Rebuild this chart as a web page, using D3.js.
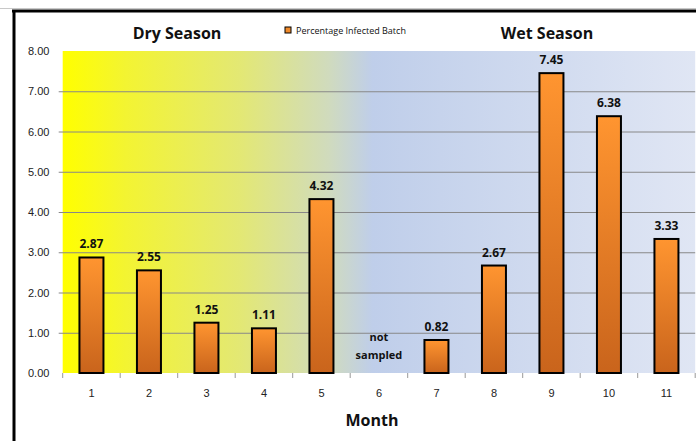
<!DOCTYPE html>
<html>
<head>
<meta charset="utf-8">
<script src="https://cdn.jsdelivr.net/npm/d3@7"></script>
<style>
  body { margin: 0; background: #fff; }
  svg { display: block; font-family: "Open Sans", "DejaVu Sans", sans-serif; }
</style>
</head>
<body>
<svg id="chart" width="696" height="441"></svg>
<script>
// data
var months = ["1", "2", "3", "4", "5", "6", "7", "8", "9", "10", "11"];
var infected = [2.87, 2.55, 1.25, 1.11, 4.32, null, 0.82, 2.67, 7.45, 6.38, 3.33];
var yTicks = [0, 1, 2, 3, 4, 5, 6, 7, 8];
var seasons = ["Dry Season", "Wet Season"];
var seriesName = "Percentage Infected Batch";

var svg = d3.select("#chart");
var plotL = 62.7, plotR = 695.2, plotT = 51, plotB = 373;

var x = d3.scaleBand().domain(months).range([plotL, plotR]).padding(0);
var y = d3.scaleLinear().domain([0, 8]).range([plotB, plotT]);

var defs = svg.append("defs");
var bg = defs.append("linearGradient").attr("id", "bg").attr("x1", 0).attr("x2", 1).attr("y1", 0).attr("y2", 0);
bg.append("stop").attr("offset", "0%").attr("stop-color", "#ffff00");
bg.append("stop").attr("offset", "10%").attr("stop-color", "#f3f432");
bg.append("stop").attr("offset", "28%").attr("stop-color", "#e3e874");
bg.append("stop").attr("offset", "42%").attr("stop-color", "#d0dbbd");
bg.append("stop").attr("offset", "49%").attr("stop-color", "#bfceea");
bg.append("stop").attr("offset", "100%").attr("stop-color", "#e0e6f4");

var barGrad = defs.append("linearGradient").attr("id", "bar").attr("x1", 0).attr("x2", 0).attr("y1", 0).attr("y2", 1);
barGrad.append("stop").attr("offset", "0%").attr("stop-color", "#ff9530");
barGrad.append("stop").attr("offset", "100%").attr("stop-color", "#c9641c");

// frame lines
svg.append("line").attr("x1", 0).attr("x2", 696).attr("y1", 8.5).attr("y2", 8.5).attr("stroke", "#c8c8c8").attr("stroke-width", 1);
svg.append("line").attr("x1", 12).attr("x2", 696).attr("y1", 11).attr("y2", 11).attr("stroke", "#000").attr("stroke-width", 3);
svg.append("line").attr("x1", 14).attr("x2", 14).attr("y1", 10).attr("y2", 441).attr("stroke", "#000").attr("stroke-width", 3);

// plot background
svg.append("rect").attr("x", plotL).attr("y", plotT).attr("width", plotR - plotL).attr("height", plotB - plotT).attr("fill", "url(#bg)");

// gridlines + y axis
var yAxis = d3.axisLeft(y).tickValues(yTicks).tickFormat(d3.format(".2f")).tickSize(-(plotR - plotL + 4)).tickPadding(8);
var gy = svg.append("g").attr("transform", "translate(" + (plotL - 4) + ",0)").call(yAxis);
gy.select(".domain").remove();
gy.selectAll(".tick line").attr("stroke", "#888").attr("stroke-width", 1).filter(function(d) { return d === 0 || d === 8; }).remove();
gy.selectAll(".tick text").attr("font-size", 11).attr("fill", "#222").attr("x", -20).attr("text-anchor", "middle")
  .attr("font-family", "'Liberation Sans', 'DejaVu Sans', sans-serif");

// x axis
var xAxis = d3.axisBottom(x).tickSize(0).tickPadding(16);
var gx = svg.append("g").attr("transform", "translate(0," + plotB + ")").call(xAxis);
gx.select(".domain").remove();
gx.selectAll(".tick text").attr("font-size", 11).attr("fill", "#222");
// ticks between categories
svg.append("g").selectAll("line").data(months.concat(["end"]))
  .join("line")
  .attr("x1", function(d, i) { return plotL + i * x.step(); })
  .attr("x2", function(d, i) { return plotL + i * x.step(); })
  .attr("y1", plotB).attr("y2", plotB + 5)
  .attr("stroke", "#999");

// bars
var bw = 24;
var bars = months.map(function(m, i) { return {m: m, v: infected[i]}; });
svg.append("g").selectAll("rect").data(bars.filter(function(d) { return d.v !== null; }))
  .join("rect")
  .attr("x", function(d) { return x(d.m) + x.bandwidth() / 2 - bw / 2; })
  .attr("y", function(d) { return y(d.v); })
  .attr("width", bw)
  .attr("height", function(d) { return y(0) - y(d.v); })
  .attr("fill", "url(#bar)")
  .attr("stroke", "#000").attr("stroke-width", 2);

svg.append("g").selectAll("text").data(bars.filter(function(d) { return d.v !== null; }))
  .join("text")
  .attr("x", function(d) { return x(d.m) + x.bandwidth() / 2; })
  .attr("y", function(d) { return y(d.v) - 9; })
  .attr("text-anchor", "middle").attr("font-size", 12).attr("font-weight", "bold").attr("fill", "#111")
  .text(function(d) { return d.v.toFixed(2); });

// not sampled label
var missing = bars.filter(function(d) { return d.v === null; });
var ns = svg.append("g").selectAll("text").data(missing).join("text")
  .attr("x", function(d) { return x(d.m) + x.bandwidth() / 2; })
  .attr("y", plotB - 32)
  .attr("text-anchor", "middle").attr("font-size", 11).attr("font-weight", "bold").attr("fill", "#111");
ns.append("tspan").attr("x", function(d) { return x(d.m) + x.bandwidth() / 2; }).text("not");
ns.append("tspan").attr("x", function(d) { return x(d.m) + x.bandwidth() / 2; }).attr("dy", 18).text("sampled");

// season titles
svg.selectAll(".season").data(seasons).join("text")
  .attr("class", "season")
  .attr("x", function(d, i) { return i === 0 ? 177 : 547; })
  .attr("y", 39)
  .attr("text-anchor", "middle").attr("font-size", 16).attr("font-weight", "bold").attr("fill", "#111")
  .text(function(d) { return d; });

// legend
svg.append("rect").attr("x", 285).attr("y", 27).attr("width", 6).attr("height", 6)
  .attr("fill", "#f08a2a").attr("stroke", "#000").attr("stroke-width", 1);
svg.append("text").attr("x", 296).attr("y", 33.5).attr("font-size", 9).attr("fill", "#111").text(seriesName);

// x title
svg.append("text").attr("x", 372).attr("y", 426).attr("text-anchor", "middle")
  .attr("font-size", 16).attr("font-weight", "bold").attr("fill", "#111").text("Month");
</script>
</body>
</html>
